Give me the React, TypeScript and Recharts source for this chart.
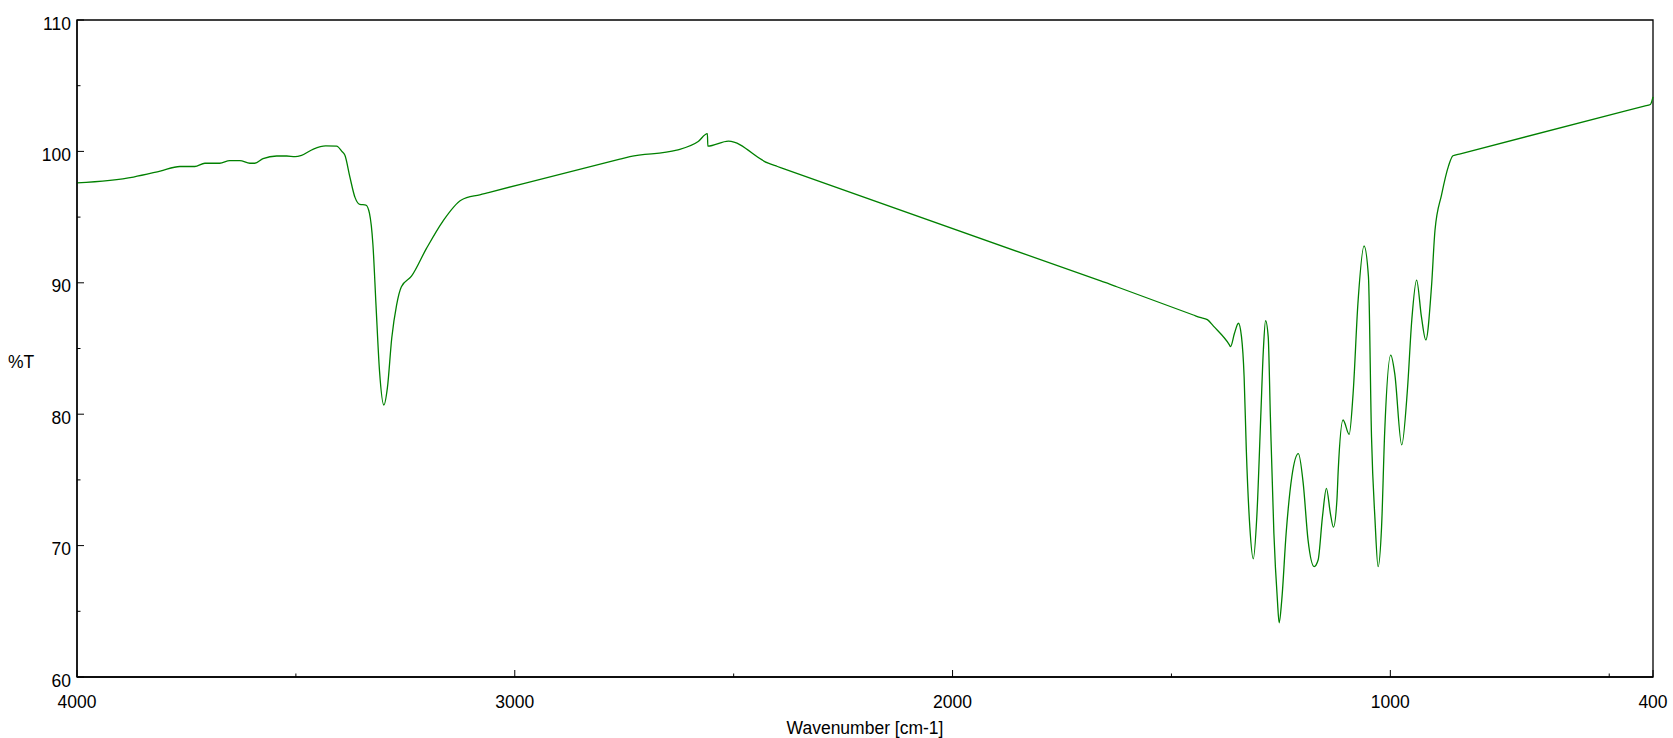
import { LineChart, Line, XAxis, YAxis, ReferenceArea, Label } from 'recharts';

const wavenumbers = [
  4000, 3871, 3810, 3765, 3731, 3708, 3674, 3651, 3628, 3605, 3594, 3575, 3544, 3521, 3502, 3487,
  3460, 3432, 3407, 3395, 3388, 3377, 3365, 3354, 3340, 3332, 3324, 3317, 3309, 3299, 3291, 3281,
  3270, 3259, 3236, 3202, 3164, 3122, 3080, 3060, 2760, 2737, 2630, 2581, 2560, 2559, 2512, 2421,
  2400, 1660, 1641, 1625, 1450, 1435,
  1418, 1404, 1368, 1365, 1356, 1347, 1340, 1334, 1329, 1321, 1313, 1305, 1296, 1290, 1285, 1279, 1274,
  1266, 1258, 1254, 1248, 1238, 1225, 1210, 1199, 1188, 1174, 1165, 1155, 1146, 1137, 1130, 1122,
  1119, 1108, 1094, 1085, 1074, 1060, 1050, 1043, 1035, 1028, 1020, 1013, 999, 990, 974, 961,
  951, 940, 929, 919, 906, 898, 883, 867, 857, 840, 420, 406, 400,
];

const transmittance = [
  97.6, 98.05, 98.5, 98.85, 98.85, 99.1, 99.1, 99.3, 99.3, 99.1, 99.1, 99.45, 99.65, 99.65, 99.6, 99.7,
  100.18, 100.42, 100.4, 100.0, 99.7, 98.1, 96.5, 95.97, 95.92, 95.3, 92.9, 88.3, 83.3, 80.7, 82.0, 85.8,
  88.3, 89.7, 90.5, 92.6, 94.7, 96.3, 96.7, 96.87, 99.41, 99.6, 100.1, 100.75, 101.35, 100.4, 100.78, 99.1,
  98.85, 90.12, 89.9, 89.7, 87.55, 87.37,
  87.2, 86.7, 85.3, 85.14, 86.16, 86.92, 85.9, 82.85, 77.3, 71.44, 69.0, 72.2, 79.8, 84.9, 87.12, 85.9, 79.8,
  70.94, 65.86, 64.13, 65.86, 70.94, 75.24, 77.0, 74.74, 70.43, 68.4, 68.9, 72.2, 74.36, 72.46, 71.4, 73.47,
  75.75, 79.56, 78.47, 81.6, 88.44, 92.8, 90.46, 78.29, 71.95, 68.4, 71.44, 78.55, 84.5, 83.11, 77.66, 81.84,
  87.17, 90.21, 87.42, 85.65, 89.7, 94.0, 96.7, 98.9, 99.67, 99.82, 103.45, 103.57, 104.15,
];

const xTicks = [4000, 3500, 3000, 2500, 2000, 1500, 1000, 500, 400];
const xLabels = [4000, 3000, 2000, 1000, 400];
const yTicks = [60, 65, 70, 75, 80, 85, 90, 95, 100, 105, 110];
const yLabels = [60, 70, 80, 90, 100, 110];

const data = wavenumbers.map((wn, i) => ({ wn, t: transmittance[i] }));

const FONT = '"Liberation Sans", Arial, sans-serif';

const XTick = (props: any) => {
  const { x, y, payload } = props;
  const major = xLabels.includes(payload.value);
  return (
    <g>
      <line x1={x} x2={x} y1={y} y2={y - (major ? 7 : 3.5)} stroke="#000" strokeWidth={1} />
      {major && (
        <text x={x} y={y + 30.5} textAnchor="middle" fill="#000" fontSize={17.5} fontFamily={FONT}>
          {payload.value}
        </text>
      )}
    </g>
  );
};

const YTick = (props: any) => {
  const { x, y, payload } = props;
  const major = yLabels.includes(payload.value);
  return (
    <g>
      <line x1={x} x2={x + (major ? 7 : 3.5)} y1={y} y2={y} stroke="#000" strokeWidth={1} />
      {major && (
        <text x={x - 6} y={y + 9.5} textAnchor="end" fill="#000" fontSize={17.5} fontFamily={FONT}>
          {payload.value}
        </text>
      )}
    </g>
  );
};

export default function App() {
  return (
    <div style={{ position: 'absolute', left: 0, top: 0, width: 1673, height: 738, background: '#fff', fontFamily: FONT }}>
      <LineChart width={1673} height={738} data={data} margin={{ top: 20, right: 20, left: 0, bottom: 0 }}>
        <XAxis
          dataKey="wn"
          type="number"
          domain={[400, 4000]}
          reversed
          ticks={xTicks}
          interval={0}
          tickSize={0}
          tickMargin={0}
          tickLine={false}
          axisLine={{ stroke: '#000', strokeWidth: 1.3 }}
          tick={<XTick />}
          height={61}
        >
          <Label value="Wavenumber [cm-1]" position="insideBottom" offset={4} fill="#000" fontSize={17.5} fontFamily={FONT} />
        </XAxis>
        <YAxis
          type="number"
          domain={[60, 110]}
          ticks={yTicks}
          interval={0}
          tickSize={0}
          tickMargin={0}
          tickLine={false}
          axisLine={{ stroke: '#000', strokeWidth: 1.3 }}
          tick={<YTick />}
          width={77}
        >
          <Label value="%T" position="insideLeft" offset={8} dy={13} fill="#000" fontSize={17.5} fontFamily={FONT} />
        </YAxis>
        <ReferenceArea x1={4000} x2={400} y1={60} y2={110} fill="none" stroke="#000" strokeWidth={1.3} />
        <Line
          type="monotone"
          dataKey="t"
          stroke="#008000"
          strokeWidth={1.3}
          dot={false}
          isAnimationActive={false}
        />
      </LineChart>
    </div>
  );
}
